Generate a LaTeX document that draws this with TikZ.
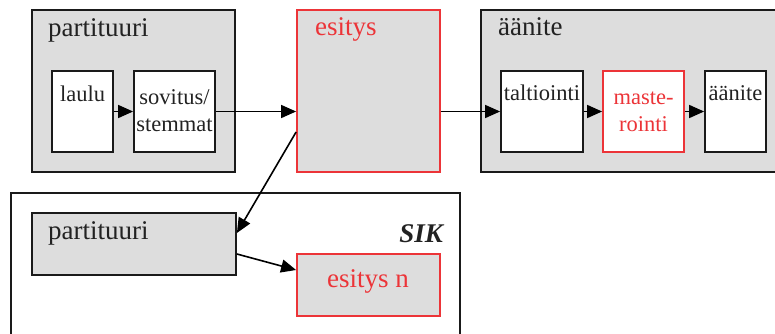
\documentclass[tikz,border=0pt]{standalone}
\usepackage{fontspec}
\setmainfont{Liberation Serif}
\usetikzlibrary{arrows.meta}
\definecolor{boxgray}{RGB}{221,221,221}
\definecolor{edge}{RGB}{26,26,26}
\definecolor{hl}{RGB}{236,52,56}
\definecolor{ink}{RGB}{34,34,34}
\tikzset{
  panel/.style={draw=edge, line width=1.8pt, fill=boxgray, inner sep=0pt},
  redpanel/.style={draw=hl, line width=1.8pt, fill=boxgray, inner sep=0pt},
  plainpanel/.style={draw=edge, line width=1.8pt, fill=white, inner sep=0pt},
  cell/.style={draw=edge, line width=1.8pt, fill=white, inner sep=0pt,
    minimum height=81pt},
  redcell/.style={draw=hl, line width=1.8pt, fill=white, inner sep=0pt,
    minimum height=81pt},
  big/.style={inner sep=0pt, text=ink, font=\fontsize{27}{32}\selectfont},
  small/.style={inner sep=0pt, text=ink, align=center,
    font=\fontsize{22.5}{27}\selectfont},
  arr/.style={draw=black, line width=1.6pt, -{Triangle[length=15pt,width=13pt]}},
}
\begin{document}
\begin{tikzpicture}[x=1pt, y=-1pt]
\useasboundingbox (0,0) rectangle (775,333);

% outer frame of the lower group
\node[plainpanel, minimum width=449pt, minimum height=147pt] (sik) at (235.5,266.5) {};

% upper row of panels
\node[panel, minimum width=203pt, minimum height=162pt] (part) at (133.5,91) {};
\node[redpanel, minimum width=143pt, minimum height=162pt] (esitys) at (368.5,91) {};
\node[panel, minimum width=299pt, minimum height=162pt] (aanite) at (630.5,91) {};

% lower row
\node[panel, minimum width=204pt, minimum height=62pt] (partb) at (134,244) {};
\node[redpanel, minimum width=143pt, minimum height=62pt] (esitysn) at (368.5,285) {};

% inner steps
\node[cell, minimum width=61pt] (laulu) at (82.5,111.5) {};
\node[cell, minimum width=81pt] (sovitus) at (174.5,111.5) {};
\node[cell, minimum width=82pt] (talt) at (542,111.5) {};
\node[redcell, minimum width=81pt] (master) at (643.5,111.5) {};
\node[cell, minimum width=61pt] (aanb) at (735.5,111.5) {};

% panel titles
\node[big, anchor=base west] (tpart) at (48,36) {partituuri};
\node[big, anchor=base west, text=hl] (tesitys) at (315,35) {esitys};
\node[big, anchor=base west] (taanite) at (498,35) {äänite};
\node[big, anchor=base west] (tpartb) at (48,239) {partituuri};
\node[big, anchor=base, text=hl] (tesitysn) at (368,287) {esitys n};
\node[big, anchor=base east, font=\fontsize{27}{32}\selectfont\bfseries\itshape] (tsik) at (443,242) {SIK};

% step labels (two-line labels are anchored at their last baseline)
\node[small, anchor=base] (tlaulu) at (82.5,101) {laulu};
\node[small, anchor=base] (tsov) at (174.5,131) {sovitus/\\stemmat};
\node[small, anchor=base] (ttalt) at (542,100) {taltiointi};
\node[small, anchor=base, text=hl] (tmaster) at (643.5,131) {maste-\\rointi};
\node[small, anchor=base] (taanb) at (735.5,100) {äänite};

% connectors
\draw[arr] (laulu) -- (sovitus);
\draw[arr] (sovitus.east) -- (sovitus.east -| esitys.west);
\draw[arr] (esitys.east |- talt.west) -- (talt.west);
\draw[arr] (talt) -- (master);
\draw[arr] (master) -- (aanb);
\draw[arr] ([yshift=-41pt]esitys.west) -- ([yshift=11pt]partb.east);
\draw[arr] ([yshift=-10pt]partb.east) -- ([yshift=15pt]esitysn.west);
\end{tikzpicture}
\end{document}
